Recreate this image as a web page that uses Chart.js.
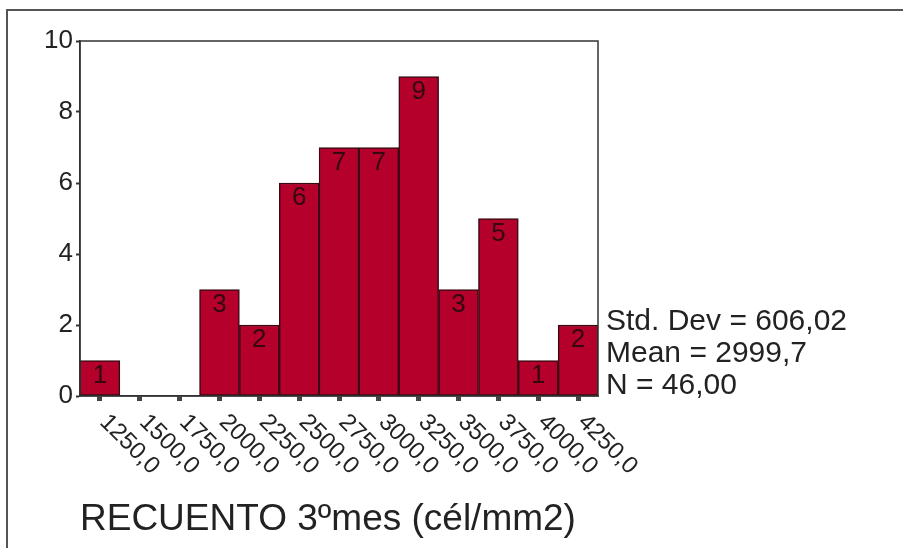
<!DOCTYPE html>
<html>
<head>
<meta charset="utf-8">
<script src="https://cdn.jsdelivr.net/npm/chart.js@4"></script>
<style>
html,body{margin:0;padding:0;background:#fff;}
#wrap{position:relative;width:903px;height:548px;}
</style>
</head>
<body>
<div id="wrap"><canvas id="c" width="903" height="548"></canvas></div>
<script>
// ---- data ----
const categories = ['1250,0','1500,0','1750,0','2000,0','2250,0','2500,0','2750,0','3000,0','3250,0','3500,0','3750,0','4000,0','4250,0'];
const counts = [1,0,0,3,2,6,7,7,9,3,5,1,2];
const yTickValues = [0,2,4,6,8,10];
const statsLines = ['Std. Dev = 606,02','Mean = 2999,7','N = 46,00'];
const axisTitle = 'RECUENTO 3\u00BAmes (c\u00E9l/mm2)';

const FONT = "'Liberation Sans', Arial, sans-serif";

const decor = {
  id: 'decor',
  beforeDraw(chart) {
    const ctx = chart.ctx;
    ctx.save();
    ctx.strokeStyle = '#555';
    ctx.lineWidth = 2;
    ctx.beginPath();
    ctx.moveTo(7, 548); ctx.lineTo(7, 10); ctx.lineTo(903, 10);
    ctx.stroke();
    ctx.restore();
  },
  afterDatasetsDraw(chart) {
    const ctx = chart.ctx;
    const meta = chart.getDatasetMeta(0);
    ctx.save();
    ctx.font = '26px ' + FONT;
    ctx.fillStyle = '#33080f';
    ctx.textAlign = 'center';
    ctx.textBaseline = 'top';
    meta.data.forEach((bar, i) => {
      const v = counts[i];
      if (!v) return;
      ctx.fillText(String(v), bar.x, bar.y + 2);
    });
    ctx.restore();
  },
  afterDraw(chart) {
    const ctx = chart.ctx;
    const a = chart.chartArea;
    ctx.save();
    // plot frame
    ctx.strokeStyle = '#333';
    ctx.lineWidth = 1.5;
    ctx.strokeRect(a.left, a.top, a.right - a.left, a.bottom - a.top);
    // rotated category labels
    const xs = chart.scales.x;
    ctx.font = '24px ' + FONT;
    ctx.fillStyle = '#222';
    ctx.textAlign = 'left';
    ctx.textBaseline = 'top';
    categories.forEach((lab, i) => {
      const px = xs.getPixelForValue(i);
      ctx.save();
      ctx.translate(px + 12, a.bottom + 14);
      ctx.rotate(Math.PI / 4);
      ctx.fillText(lab, 0, 0);
      ctx.restore();
    });
    // stats text
    ctx.font = '30px ' + FONT;
    ctx.textBaseline = 'alphabetic';
    statsLines.forEach((t, i) => {
      ctx.fillText(t, a.right + 8, 330 + i * 32);
    });
    ctx.restore();
  }
};

new Chart(document.getElementById('c'), {
  type: 'bar',
  data: {
    labels: categories,
    datasets: [{
      data: counts,
      backgroundColor: '#b5002c',
      borderColor: '#3a0a12',
      borderWidth: 1.5,
      borderSkipped: false,
      barPercentage: 1,
      categoryPercentage: 1
    }]
  },
  options: {
    responsive: false,
    animation: false,
    layout: { padding: { top: 41, right: 305, left: 0, bottom: 0 } },
    plugins: { legend: { display: false }, tooltip: { enabled: false } },
    scales: {
      x: {
        grid: { display: true, drawOnChartArea: false, drawTicks: true, offset: false, tickLength: 5, tickWidth: 5, tickColor: '#444' },
        border: { display: true, color: '#333', width: 1.5 },
        ticks: { display: false },
        title: { display: true, text: axisTitle, align: 'start', color: '#222', font: { family: FONT, size: 37 }, padding: { bottom: 6 } },
        afterFit(s) { s.height = 548 - 396; }
      },
      y: {
        min: 0, max: 10,
        afterBuildTicks(s) { s.ticks = yTickValues.map(v => ({ value: v })); },
        grid: { display: true, drawOnChartArea: false, drawTicks: true, tickLength: 4, tickWidth: 2, tickColor: '#333' },
        border: { display: true, color: '#333', width: 1.5 },
        ticks: { color: '#222', font: { family: FONT, size: 26 }, padding: 3 },
        afterFit(s) { s.width = 80; }
      }
    }
  },
  plugins: [decor]
});
</script>
</body>
</html>
